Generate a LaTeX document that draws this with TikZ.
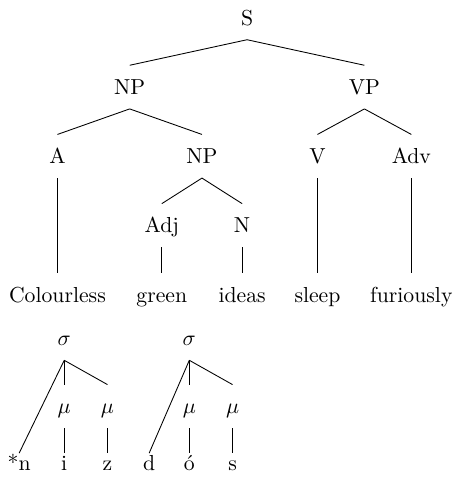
\documentclass[tikz,border=0pt]{standalone}
\usetikzlibrary{positioning}
\begin{document}
\begin{tikzpicture}[
  node distance=11.2mm,
  cat/.style={inner xsep=2pt, inner ysep=4pt, text height=9.3pt, text depth=2.4pt},
  seg/.style={inner xsep=2pt, inner ysep=0.8pt, text height=7pt, text depth=2pt}
]
	\useasboundingbox (-40mm,2.9mm) rectangle (33.9mm,-75.3mm);

	\node (sentence) [cat] {S};
	\node (nounPhrase1) [cat, below of=sentence, xshift=-19mm] {NP};
	\node (verbPhrase) [cat, below of=sentence, xshift=19mm] {VP};

	\node (adjective1) [cat, below of=nounPhrase1, xshift=-11.7mm] {A};
	\node (nounPhrase2) [cat, below of=nounPhrase1, xshift=11.7mm] {NP};
	\node (verb) [cat, below of=verbPhrase, xshift=-7.6mm] {V};
	\node (adverb) [cat, below of=verbPhrase, xshift=7.6mm] {Adv};

	\node (adjective2) [cat, below of=nounPhrase2, xshift=-6.5mm] {Adj};
	\node (noun) [cat, below of=nounPhrase2, xshift=6.5mm] {N};

	\node (wordColourless) [cat, below of=adjective1, node distance=22.4mm] {Colourless};
	\node (wordGreen) [cat, below of=adjective2] {green};
	\node (wordIdeas) [cat, below of=noun] {ideas};
	\node (wordSleep) [cat, below of=verb, node distance=22.4mm] {sleep};
	\node (wordFuriously) [cat, below of=adverb, node distance=22.4mm] {furiously};

	\draw (sentence.south) -- (nounPhrase1.north);
	\draw (sentence.south) -- (verbPhrase.north);
	\draw (nounPhrase1.south) -- (adjective1.north);
	\draw (nounPhrase1.south) -- (nounPhrase2.north);
	\draw (verbPhrase.south) -- (verb.north);
	\draw (verbPhrase.south) -- (adverb.north);
	\draw (nounPhrase2.south) -- (adjective2.north);
	\draw (nounPhrase2.south) -- (noun.north);
	\draw (adjective1.south) -- (wordColourless.north);
	\draw (adjective2.south) -- (wordGreen.north);
	\draw (noun.south) -- (wordIdeas.north);
	\draw (verb.south) -- (wordSleep.north);
	\draw (adverb.south) -- (wordFuriously.north);

	\node (syllable1) [cat, below of=wordColourless, node distance=7.1mm, xshift=1.1mm] {$\sigma$};
	\node (syllable2) [cat, right of=syllable1, node distance=20.25mm] {$\sigma$};

	\node (mora1A) [cat, below of=syllable1, node distance=11mm] {$\mu$};
	\node (mora1B) [cat, right of=mora1A, node distance=7mm] {$\mu$};
	\node (mora2A) [cat, below of=syllable2, node distance=11mm] {$\mu$};
	\node (mora2B) [cat, right of=mora2A, node distance=7mm] {$\mu$};

	\node (segment1A) [seg, below of=mora1A, node distance=9.5mm, xshift=-7.3mm] {*n};
	\node (segment1B) [seg, below of=mora1A, node distance=9.5mm] {i};
	\node (segment1C) [seg, below of=mora1B, node distance=9.5mm] {z};
	\node (segment2A) [seg, below of=mora2A, node distance=9.5mm, xshift=-6.5mm] {d};
	\node (segment2B) [seg, below of=mora2A, node distance=9.5mm] {\'o};
	\node (segment2C) [seg, below of=mora2B, node distance=9.5mm] {s};

	\draw (syllable1.south) -- (segment1A.north);
	\draw (syllable1.south) -- (mora1A.north);
	\draw (syllable1.south) -- (mora1B.north);
	\draw (mora1A.south) -- (segment1B.north);
	\draw (mora1B.south) -- (segment1C.north);
	\draw (syllable2.south) -- (segment2A.north);
	\draw (syllable2.south) -- (mora2A.north);
	\draw (syllable2.south) -- (mora2B.north);
	\draw (mora2A.south) -- (segment2B.north);
	\draw (mora2B.south) -- (segment2C.north);
\end{tikzpicture}
\end{document}
